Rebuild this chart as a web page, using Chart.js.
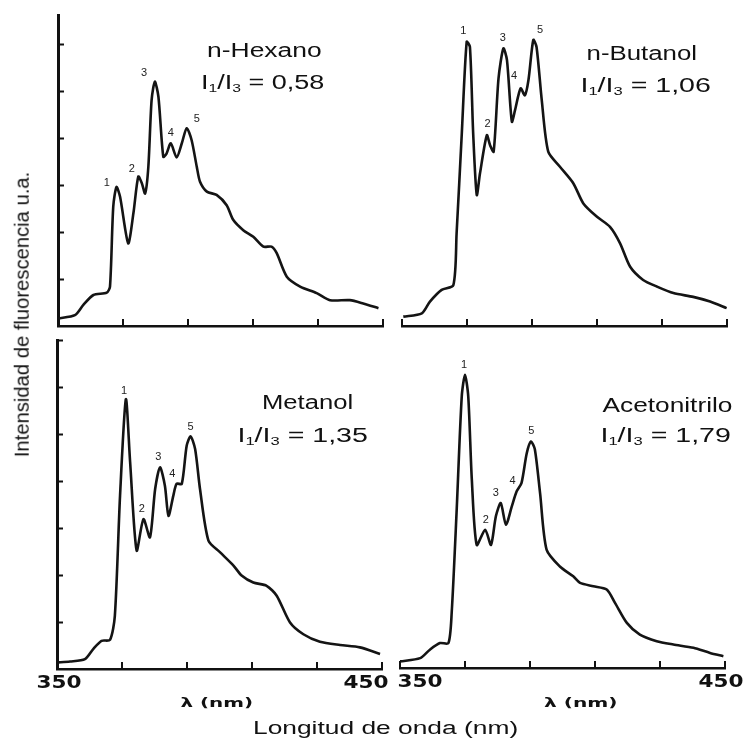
<!DOCTYPE html>
<html>
<head>
<meta charset="utf-8" />
<title>Espectros de fluorescencia del pireno</title>
<script src="https://cdn.jsdelivr.net/npm/chart.js"></script>
<style>
  body { margin: 0; background: #fff; }
  #fig { position: relative; width: 747px; height: 740px; overflow: hidden; background: #fff; }
  #fig canvas { position: absolute; }
  .lbl { position: absolute; white-space: nowrap; color: #111; line-height: 1;
         font-family: 'Liberation Sans', Arial, sans-serif; transform-origin: 50% 50%; }
  .lbl sub { font-size: 58%; vertical-align: -0.3em; }
</style>
</head>
<body>
<div id="fig">
  <canvas id="c1"></canvas>
  <canvas id="c2"></canvas>
  <canvas id="c3"></canvas>
  <canvas id="c4"></canvas>
</div>

<script>
// wavelength (nm) / intensity (u.a.)
var hexanoX = [350, 355.2, 357.8, 360.9, 365.0, 366.0, 367.0, 368.0, 369.1, 371.6, 373.2, 374.7, 375.8, 376.8,
  377.8, 378.8, 379.8, 380.9, 382.4, 383.4, 384.7, 386.5, 388.1, 389.6, 391.1, 392.7, 393.7, 395.8, 398.8,
  401.9, 403.9, 407.0, 410.1, 413.2, 415.7, 417.3, 420.4, 424.5, 429.6, 433.7, 439.8, 443.9, 448.6];
var hexanoY = [0.16, 0.23, 0.45, 0.66, 0.71, 0.84, 2.54, 2.96, 2.75, 1.76, 2.40, 3.18, 3.04, 2.82,
  3.39, 4.81, 5.20, 4.88, 3.60, 3.67, 3.89, 3.59, 3.89, 4.21, 3.96, 3.39, 3.07, 2.86, 2.79,
  2.57, 2.26, 2.04, 1.90, 1.69, 1.69, 1.55, 1.05, 0.84, 0.70, 0.55, 0.55, 0.48, 0.38];

var butanolX = [350.4, 356.1, 358.6, 362.2, 365.8, 366.8, 368.4, 369.9, 370.9, 371.9, 373.0, 374.0, 376.1,
  377.1, 378.2, 379.7, 381.2, 382.3, 383.8, 384.8, 386.5, 387.8, 388.9, 390.4, 391.4, 393.0, 395.0,
  398.6, 402.7, 405.8, 409.9, 414.0, 417.1, 420.2, 424.2, 428.4, 433.5, 439.6, 444.8, 449.9];
var butanolY = [0.20, 0.27, 0.52, 0.77, 0.87, 1.97, 4.10, 6.05, 5.94, 4.10, 2.79, 3.25, 4.06,
  3.85, 3.71, 5.27, 5.91, 5.66, 4.35, 4.60, 5.06, 4.91, 5.23, 6.09, 5.94, 4.81, 3.71,
  3.39, 3.04, 2.61, 2.33, 2.11, 1.76, 1.26, 0.98, 0.84, 0.70, 0.62, 0.52, 0.38];

var metanolX = [350, 354.0, 358.6, 361.2, 363.7, 366.3, 367.8, 369.4, 371.2, 372.5, 374.5, 376.6, 378.6,
  380.2, 381.7, 383.2, 384.3, 385.8, 386.8, 388.4, 389.9, 391.1, 392.5, 394.0, 396.6, 400.2, 404.3,
  406.8, 410.4, 414.5, 417.6, 421.7, 425.8, 430.9, 437.1, 443.2, 449.4];
var metanolY = [0.14, 0.16, 0.21, 0.43, 0.60, 0.62, 1.13, 3.69, 5.74, 4.40, 2.52, 3.19, 2.80,
  3.83, 4.29, 3.90, 3.26, 3.69, 3.94, 3.94, 4.75, 4.95, 4.68, 3.83, 2.73, 2.48, 2.20,
  1.99, 1.84, 1.77, 1.56, 0.99, 0.74, 0.58, 0.51, 0.46, 0.32];

var acetoX = [350, 356.2, 359.2, 362.3, 364.9, 365.9, 367.4, 369.0, 370.0, 371.0, 372.1, 373.6, 376.2,
  378.0, 379.5, 381.0, 382.6, 384.4, 385.9, 387.4, 389.0, 390.3, 391.5, 393.1, 395.1, 399.2, 403.3,
  405.4, 409.5, 413.6, 416.2, 419.8, 423.8, 429.0, 434.1, 440.3, 445.4, 449.5];
var acetoY = [0.14, 0.21, 0.39, 0.53, 0.53, 1.17, 3.30, 5.78, 6.24, 5.78, 4.01, 2.62, 2.94,
  2.62, 3.23, 3.51, 3.05, 3.44, 3.76, 3.94, 4.57, 4.82, 4.65, 3.72, 2.52, 2.16, 1.95,
  1.81, 1.74, 1.67, 1.38, 0.96, 0.71, 0.57, 0.50, 0.43, 0.32, 0.25];

// vibronic band numbers and where they are written (nm, u.a.)
var peakNames = ['1', '2', '3', '4', '5'];
var hexanoPeakX = [365.0, 372.7, 376.5, 384.7, 392.7];
var hexanoPeakY = [3.05, 3.35, 5.39, 4.10, 4.40];
var butanolPeakX = [368.9, 376.3, 381.0, 384.5, 392.5];
var butanolPeakY = [6.28, 4.31, 6.14, 5.32, 6.31];
var metanolPeakX = [370.6, 376.1, 381.2, 385.5, 391.1];
var metanolPeakY = [5.92, 3.40, 4.52, 4.15, 5.14];
var acetoPeakX = [369.7, 376.4, 379.5, 384.6, 390.4];
var acetoPeakY = [6.45, 3.16, 3.72, 3.97, 5.04];

var xTicks = [350, 370, 390, 410, 430, 450];
var xTickLabels = ['350', '', '', '', '', '450'];
var yTicks = [1, 2, 3, 4, 5, 6, 7];

var PAD = 30;

var panels = [
  { id: 'c1', xs: hexanoX, ys: hexanoY, px: hexanoPeakX, py: hexanoPeakY,
    area: { l: 58, t: 15, r: 383, b: 326 }, ymax: 6.62, yAxis: true, tickText: false },
  { id: 'c2', xs: butanolX, ys: butanolY, px: butanolPeakX, py: butanolPeakY,
    area: { l: 402, t: 15, r: 727, b: 326 }, ymax: 6.62, yAxis: false, tickText: false },
  { id: 'c3', xs: metanolX, ys: metanolY, px: metanolPeakX, py: metanolPeakY,
    area: { l: 57, t: 340, r: 382, b: 669 }, ymax: 7, yAxis: true, tickText: true, shift: [2, -16] },
  { id: 'c4', xs: acetoX, ys: acetoY, px: acetoPeakX, py: acetoPeakY,
    area: { l: 400, t: 340, r: 725, b: 668 }, ymax: 6.98, yAxis: false, tickText: true, shift: [20, -4] }
];

function noSize(s) {
  if (s.isHorizontal()) s.height = 0; else s.width = 0;
  s.paddingLeft = s.paddingRight = s.paddingTop = s.paddingBottom = 0;
}

// inward ticks, band numbers and the 350 / 450 labels
var decorPlugin = {
  id: 'decor',
  afterDraw: function (chart) {
    var ctx = chart.ctx, xs = chart.scales.x, ys = chart.scales.y, a = chart.chartArea;
    var p = chart.options.plugins.decor;
    ctx.save();
    ctx.strokeStyle = '#111';
    ctx.lineWidth = 2;
    xTicks.forEach(function (v) {
      var x = Math.round(xs.getPixelForValue(v));
      ctx.beginPath(); ctx.moveTo(x, a.bottom); ctx.lineTo(x, a.bottom - 7); ctx.stroke();
    });
    if (p.yAxis) {
      yTicks.forEach(function (v) {
        if (v > p.ymax + 0.05) return;
        var y = Math.round(ys.getPixelForValue(v)) + 0.5;
        ctx.beginPath(); ctx.moveTo(a.left, y); ctx.lineTo(a.left + 6, y); ctx.stroke();
      });
    }
    ctx.fillStyle = '#222';
    ctx.font = '11px "Liberation Sans", Arial, sans-serif';
    ctx.textAlign = 'center';
    ctx.textBaseline = 'middle';
    p.px.forEach(function (v, i) {
      ctx.fillText(peakNames[i], xs.getPixelForValue(v), ys.getPixelForValue(p.py[i]));
    });
    if (p.tickText) {
      ctx.fillStyle = '#111';
      ctx.font = 'bold 17px "DejaVu Sans", sans-serif';
      xTicks.forEach(function (v, i) {
        var t = xTickLabels[i];
        if (!t) return;
        var x = xs.getPixelForValue(v) + (i === 0 ? p.shift[0] : p.shift[1]);
        var w = ctx.measureText(t).width;
        ctx.save();
        ctx.translate(x, a.bottom + 15);
        ctx.scale(45 / w, 1);
        ctx.fillText(t, 0, 0);
        ctx.restore();
      });
    }
    ctx.restore();
  }
};

panels.forEach(function (p) {
  var cv = document.getElementById(p.id);
  var w = p.area.r - p.area.l, h = p.area.b - p.area.t;
  cv.width = w + 2 * PAD;
  cv.height = h + 2 * PAD;
  cv.style.left = (p.area.l - PAD) + 'px';
  cv.style.top = (p.area.t - PAD) + 'px';

  var pts = p.xs.map(function (x, i) { return { x: x, y: p.ys[i] }; });

  new Chart(cv.getContext('2d'), {
    type: 'line',
    data: {
      datasets: [{
        data: pts,
        borderColor: '#141414',
        borderWidth: 2.6,
        pointRadius: 0,
        tension: 0.25,
        fill: false
      }]
    },
    options: {
      responsive: false,
      animation: false,
      events: [],
      layout: { padding: PAD },
      plugins: {
        legend: { display: false },
        tooltip: { enabled: false },
        decor: { px: p.px, py: p.py, yAxis: p.yAxis, ymax: p.ymax, tickText: p.tickText, shift: p.shift }
      },
      scales: {
        x: {
          type: 'linear', min: 350, max: 450,
          grid: { display: false, drawTicks: false },
          ticks: { display: false },
          border: { display: true, color: '#111', width: 2.6 },
          afterFit: noSize
        },
        y: {
          min: 0, max: p.ymax,
          display: p.yAxis,
          grid: { display: false, drawTicks: false },
          ticks: { display: false },
          border: { display: true, color: '#111', width: 3 },
          afterFit: noSize
        }
      }
    },
    plugins: [decorPlugin]
  });
});

// texts around and inside the panels
var fig = document.getElementById('fig');
function place(html, cx, cy, w, font, rot) {
  var d = document.createElement('div');
  d.className = 'lbl';
  d.innerHTML = html;
  d.style.font = font;
  fig.appendChild(d);
  var k = w / d.offsetWidth;
  d.style.left = (cx - d.offsetWidth / 2) + 'px';
  d.style.top = (cy - d.offsetHeight / 2) + 'px';
  d.style.transform = (rot ? 'rotate(-90deg) ' : '') + 'scaleX(' + k + ')';
}

var ratio = 'I<sub>1</sub>/I<sub>3</sub> = ';
var bigFont = '20px "Liberation Sans", Arial, sans-serif';
place('n-Hexano', 264, 50, 115, bigFont);
place(ratio + '0,58', 262, 82, 123, bigFont);
place('n-Butanol', 642, 53, 111, bigFont);
place(ratio + '1,06', 645, 85, 130, bigFont);
place('Metanol', 307, 402, 91, bigFont);
place(ratio + '1,35', 302, 435, 130, bigFont);
place('Acetonitrilo', 667, 405, 130, bigFont);
place(ratio + '1,79', 665, 435, 130, bigFont);
place('&lambda; (nm)', 216, 702, 72, 'bold 13px "DejaVu Sans", sans-serif');
place('&lambda; (nm)', 580, 702, 73, 'bold 13px "DejaVu Sans", sans-serif');
place('Longitud de onda (nm)', 385, 728, 265, '18px "Liberation Sans", Arial, sans-serif');
place('Intensidad de fluorescencia u.a.', 22, 314, 285, '20px "Liberation Sans", Arial, sans-serif', true);
</script>
</body>
</html>
